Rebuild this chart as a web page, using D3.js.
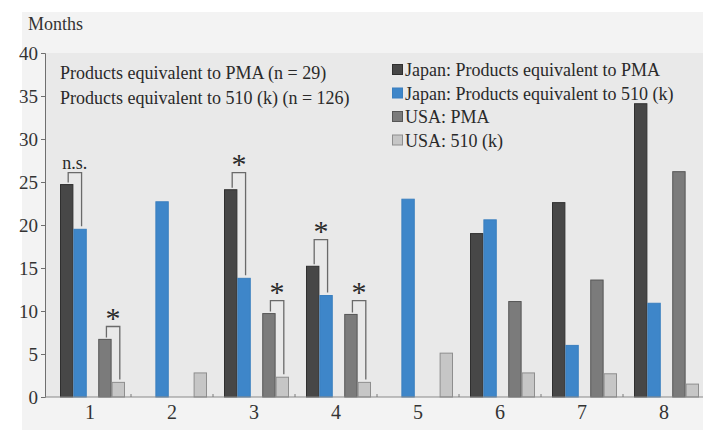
<!DOCTYPE html>
<html>
<head>
<meta charset="utf-8">
<script src="https://cdn.jsdelivr.net/npm/d3@7"></script>
<style>
  html, body { margin: 0; padding: 0; background: #ffffff; }
  svg { display: block; font-family: "Liberation Serif", "Times New Roman", serif; }
</style>
</head>
<body>
<svg id="chart" width="703" height="430"></svg>
<script>
// Review time (months) by product class
const categories = ["1", "2", "3", "4", "5", "6", "7", "8"];
const japanPMA  = [24.7, null, 24.1, 15.2, null, 19.0, 22.6, 34.1];
const japan510k = [19.5, 22.7, 13.8, 11.8, 23.0, 20.6, 6.0, 10.9];
const usaPMA    = [6.7, null, 9.7, 9.6, null, 11.1, 13.6, 26.2];
const usa510k   = [1.7, 2.8, 2.3, 1.7, 5.1, 2.8, 2.7, 1.5];
const yTicks = [0, 5, 10, 15, 20, 25, 30, 35, 40];

const seriesNames = [
  "Japan: Products equivalent to PMA",
  "Japan: Products equivalent to 510 (k)",
  "USA: PMA",
  "USA: 510 (k)"
];
const noteLines = [
  "Products equivalent to PMA (n = 29)",
  "Products equivalent to 510 (k) (n = 126)"
];

// Significance markers: category, compared pair, label, bracket height (months)
const sigCategory = ["1", "1", "3", "3", "4", "4"];
const sigPair     = ["Japan", "USA", "Japan", "USA", "Japan", "USA"];
const sigLabel    = ["n.s.", "*", "*", "*", "*", "*"];
const sigLevel    = [26.1, 8.2, 26.1, 11.2, 18.3, 11.2];

const series = [
  { name: seriesNames[0], pair: "Japan", kind: "PMA",  values: japanPMA,  fill: "#474747", stroke: "#2f2f2f" },
  { name: seriesNames[1], pair: "Japan", kind: "510k", values: japan510k, fill: "#3e86c9", stroke: "#3a7fbf" },
  { name: seriesNames[2], pair: "USA",   kind: "PMA",  values: usaPMA,    fill: "#7b7b7b", stroke: "#565656" },
  { name: seriesNames[3], pair: "USA",   kind: "510k", values: usa510k,   fill: "#c6c6c6", stroke: "#8e8e8e" }
];

const svg = d3.select("#chart");

// page backgrounds
svg.append("rect").attr("x", 22).attr("y", 12).attr("width", 703 - 22).attr("height", 430 - 12)
  .attr("fill", "#f3f3f3");

const y = d3.scaleLinear().domain([0, 40]).range([397, 53]);
const x = d3.scaleBand().domain(categories).range([49, 705]).padding(0);
const xPair = d3.scaleBand().domain(["Japan", "USA"]).range([11, 76]).paddingInner(0.3);
const xKind = d3.scaleBand().domain(["PMA", "510k"]).range([0, xPair.bandwidth()]);
const axisX = 45;

// plot panel
svg.append("rect").attr("x", axisX).attr("y", y(40)).attr("width", 703 - axisX)
  .attr("height", y(0) - y(40)).attr("fill", "#e9e9e9");

// bars
const barG = svg.append("g");
series.forEach(s => {
  barG.append("g").selectAll("rect")
    .data(categories.map((c, i) => ({ c, v: s.values[i] })).filter(d => d.v != null))
    .join("rect")
    .attr("x", d => x(d.c) + xPair(s.pair) + xKind(s.kind) + 0.5)
    .attr("y", d => y(d.v))
    .attr("width", xKind.bandwidth() - 1)
    .attr("height", d => y(0) - y(d.v))
    .attr("fill", s.fill)
    .attr("stroke", s.stroke)
    .attr("stroke-width", 1);
});

// y axis
const yAxis = d3.axisLeft(y).tickValues(yTicks).tickSize(4).tickPadding(3);
const yg = svg.append("g").attr("transform", `translate(${axisX},0)`).call(yAxis);
yg.select(".domain").attr("stroke", "#6f6f6f");
yg.selectAll(".tick line").attr("stroke", "#6f6f6f");
yg.selectAll(".tick text").attr("font-size", 19).attr("fill", "#333333")
  .attr("font-family", "Liberation Serif, serif");

// x axis: labels at band centers, small ticks at band boundaries
const xg = svg.append("g").attr("transform", `translate(0,${y(0)})`);
xg.append("line").attr("x1", axisX).attr("x2", 703).attr("stroke", "#8a8a8a").attr("stroke-width", 1.2);
xg.selectAll(".bound").data(categories.slice(1)).join("line")
  .attr("x1", d => x(d)).attr("x2", d => x(d)).attr("y1", 0).attr("y2", -3)
  .attr("stroke", "#7a7a7a");
xg.selectAll("text").data(categories).join("text")
  .attr("x", d => x(d) + x.bandwidth() / 2).attr("y", 22)
  .attr("text-anchor", "middle").attr("font-size", 20).attr("fill", "#333333")
  .text(d => d);

// unit label
svg.append("text").attr("x", 28).attr("y", 30).attr("font-size", 18).attr("fill", "#333333").text("Months");

// sample size notes
svg.append("g").selectAll("text").data(noteLines).join("text")
  .attr("x", 60).attr("y", (d, i) => 79 + i * 25)
  .attr("font-size", 18).attr("fill", "#2a2a2a").text(d => d);

// legend
const leg = svg.append("g").attr("transform", "translate(392,70)");
const li = leg.selectAll("g").data(series).join("g").attr("transform", (d, i) => `translate(0,${i * 23.5})`);
li.append("rect").attr("x", 0.5).attr("y", -5.5).attr("width", 10).attr("height", 10)
  .attr("fill", d => d.fill).attr("stroke", d => d.stroke);
li.append("text").attr("x", 13).attr("y", 6).attr("font-size", 18).attr("fill", "#2a2a2a").text(d => d.name);

// significance brackets
const valueOf = (cat, pair, kind) => {
  const s = series.find(t => t.pair === pair && t.kind === kind);
  return s.values[categories.indexOf(cat)];
};
const sigG = svg.append("g");
sigCategory.forEach((cat, i) => {
  const pair = sigPair[i];
  const x0 = x(cat) + xPair(pair) + xKind("PMA") + xKind.bandwidth() / 2 + 1.5;
  const x1 = x(cat) + xPair(pair) + xKind("510k") + xKind.bandwidth() / 2 + 1.5;
  const top = y(sigLevel[i]);
  const yl = y(valueOf(cat, pair, "PMA")) - 2;
  const yr = y(valueOf(cat, pair, "510k")) - 3;
  sigG.append("path")
    .attr("d", `M${x0},${yl}V${top}H${x1}V${yr}`)
    .attr("fill", "none").attr("stroke", "#6a6a6a").attr("stroke-width", 1.3);
  const cx = (x0 + x1) / 2;
  if (sigLabel[i] === "*") {
    sigG.append("text").attr("x", cx).attr("y", top - 12 + 0.46 * 30)
      .attr("text-anchor", "middle").attr("font-size", 30).attr("fill", "#2a2a2a").text("*");
  } else {
    sigG.append("text").attr("x", cx).attr("y", top - 4)
      .attr("text-anchor", "middle").attr("font-size", 18).attr("fill", "#2a2a2a").text(sigLabel[i]);
  }
});
</script>
</body>
</html>
